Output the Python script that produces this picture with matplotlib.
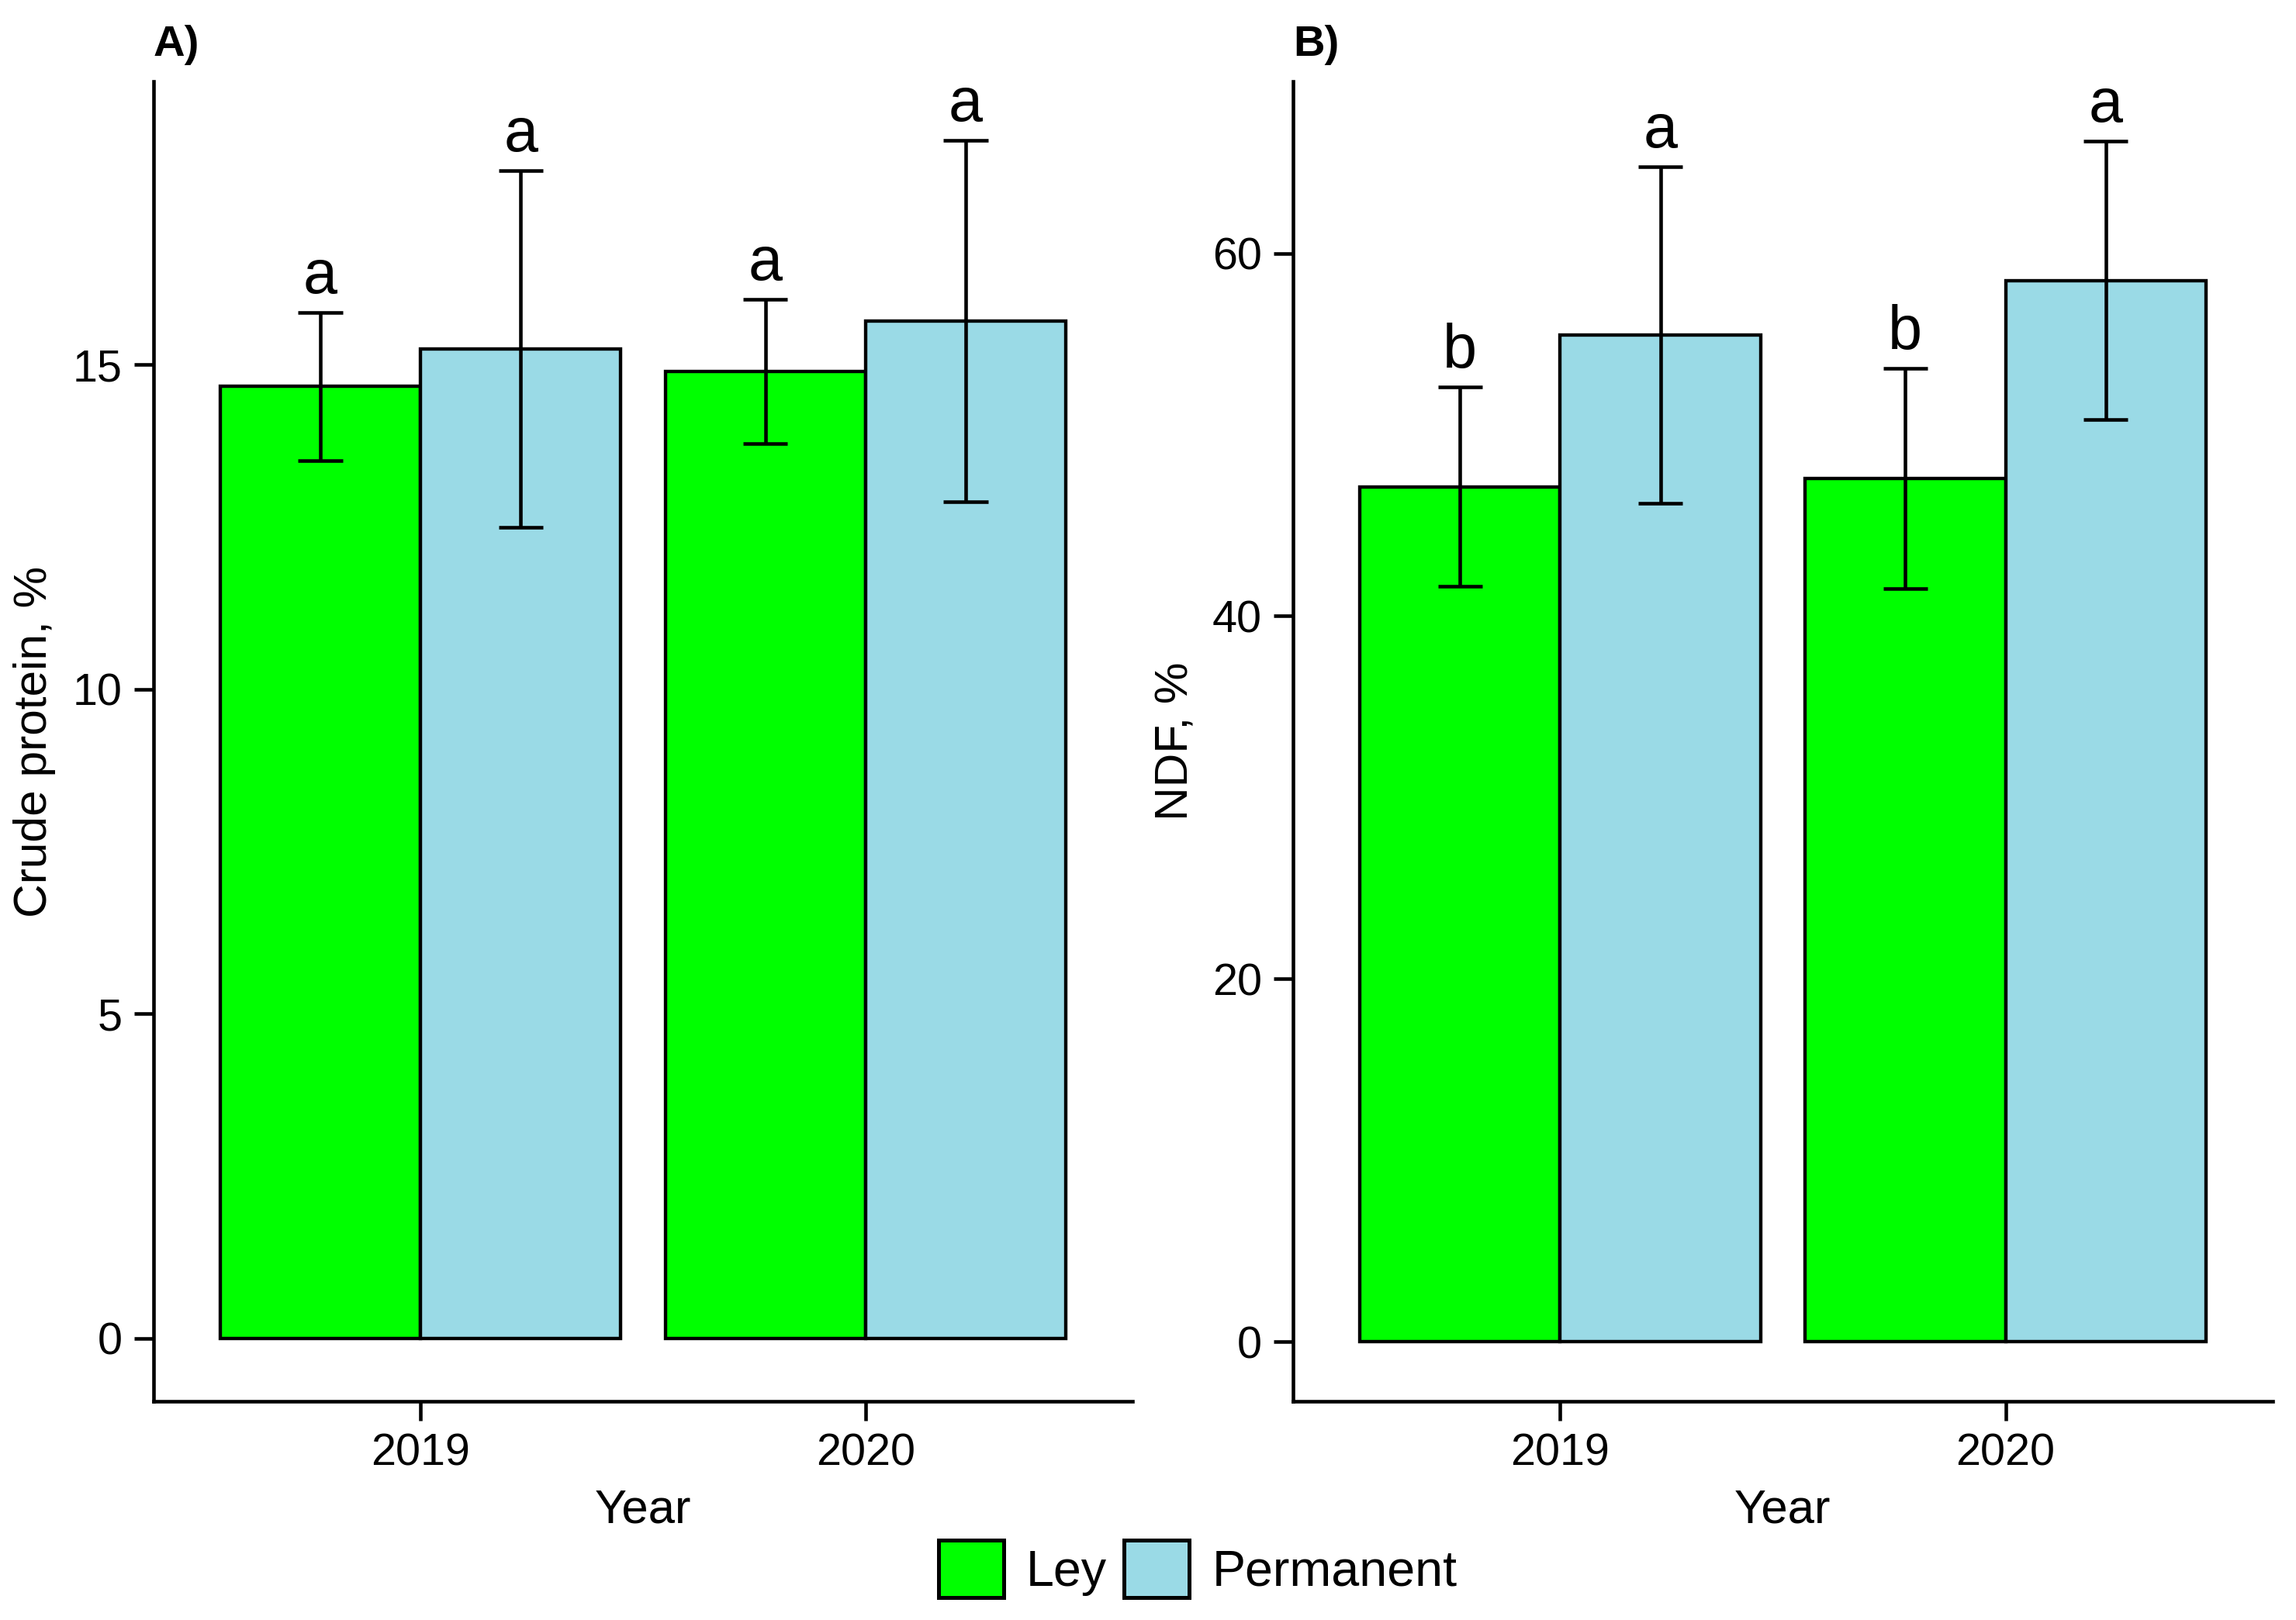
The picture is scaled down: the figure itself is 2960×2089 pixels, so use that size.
import matplotlib
matplotlib.use("Agg")
import matplotlib.pyplot as plt
import numpy as np
from matplotlib.patches import Patch

plt.rcParams['font.family'] = ['Liberation Sans', 'DejaVu Sans']

years = ['2019', '2020']
groups = ['Ley', 'Permanent']
colors = ['#00FF00', '#9ADAE6']

cp_ley = [14.66, 14.89]
cp_ley_se = [1.14, 1.11]
cp_perm = [15.24, 15.67]
cp_perm_se = [2.75, 2.78]
cp_letters_ley = ['a', 'a']
cp_letters_perm = ['a', 'a']

ndf_ley = [47.12, 47.60]
ndf_ley_se = [5.49, 6.07]
ndf_perm = [55.48, 58.50]
ndf_perm_se = [9.27, 7.68]
ndf_letters_ley = ['b', 'b']
ndf_letters_perm = ['a', 'a']

W, H = 2961, 2089
fig = plt.figure(figsize=(W / 300, H / 300), dpi=300)


def px_axes(left, right, top, bottom):
    return fig.add_axes([left / W, 1 - bottom / H, (right - left) / W, (bottom - top) / H])


def panel(ax, means_list, se_list, letters_list, yticks, ylim):
    x = np.arange(1, len(years) + 1)
    bw = 0.45
    offsets = [-bw / 2, bw / 2]
    for means, ses, lets, off, col in zip(means_list, se_list, letters_list, offsets, colors):
        xs = x + off
        ax.bar(xs, means, width=bw, color=col, edgecolor='black', linewidth=1.05, zorder=2)
        up = np.array(means) + np.array(ses)
        lo = np.array(means) - np.array(ses)
        ax.vlines(xs, lo, up, color='black', linewidth=1.1, zorder=3)
        ax.hlines(up, xs - 0.05, xs + 0.05, color='black', linewidth=1.1, zorder=3)
        ax.hlines(lo, xs - 0.05, xs + 0.05, color='black', linewidth=1.1, zorder=3)
        for xi, ui, t in zip(xs, up, lets):
            ax.annotate(t, (xi, ui), xytext=(0, 6), textcoords='offset points',
                        ha='center', va='baseline', fontsize=19)
    ax.set_xlim(0.4, 2.6)
    ax.set_ylim(*ylim)
    ax.set_xticks(x)
    ax.set_xticklabels(years)
    ax.set_yticks(yticks)
    for s in ['top', 'right']:
        ax.spines[s].set_visible(False)
    for s in ['left', 'bottom']:
        ax.spines[s].set_linewidth(1.1)
    ax.tick_params(axis='both', length=6, width=1.1, labelsize=13.8, pad=3.6, colors='black')


axA = px_axes(198, 1460, 105, 1807)
panel(axA, [cp_ley, cp_perm], [cp_ley_se, cp_perm_se],
      [cp_letters_ley, cp_letters_perm], [0, 5, 10, 15], (-0.97, 19.36))

axB = px_axes(1667, 2930, 105, 1807)
panel(axB, [ndf_ley, ndf_perm], [ndf_ley_se, ndf_perm_se],
      [ndf_letters_ley, ndf_letters_perm], [0, 20, 40, 60], (-3.29, 69.47))

# axis titles
fig.text(45 / W, 1 - 956 / H, 'Crude protein, %', rotation=90, ha='center', va='center', fontsize=14.5)
fig.text(1516 / W, 1 - 956 / H, 'NDF, %', rotation=90, ha='center', va='center', fontsize=14.5)
fig.text(829 / W, 1 - 1963 / H, 'Year', ha='center', va='baseline', fontsize=14.8)
fig.text(2298 / W, 1 - 1963 / H, 'Year', ha='center', va='baseline', fontsize=14.8)

# panel tags
fig.text(198 / W, 1 - 72 / H, 'A)', ha='left', va='baseline', fontsize=13.5, fontweight='bold')
fig.text(1667 / W, 1 - 72 / H, 'B)', ha='left', va='baseline', fontsize=13.5, fontweight='bold')

handles = [Patch(facecolor=c, edgecolor='black', linewidth=1.2, label=g) for c, g in zip(colors, groups)]
fig.legend(handles=handles, loc='center', bbox_to_anchor=(1544 / W, 1 - 2023 / H), ncol=2,
           frameon=False, fontsize=15.5, handlelength=1.3, handleheight=1.38,
           handletextpad=0.45, columnspacing=0.35, borderpad=0)

fig.savefig('out.png', dpi=300)
